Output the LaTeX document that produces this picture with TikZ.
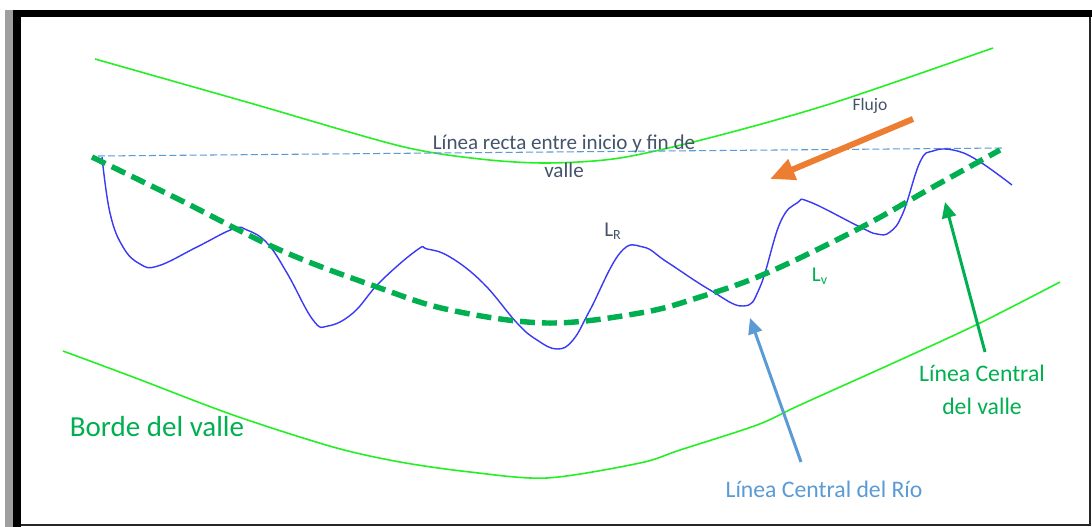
\documentclass[tikz,border=0pt]{standalone}
\usepackage{fontspec}
\setmainfont{Carlito}
\usetikzlibrary{arrows.meta}
\definecolor{valleygreen}{HTML}{00B050}
\definecolor{bordergreen}{HTML}{22F022}
\definecolor{riverblue}{HTML}{3A3AF5}
\definecolor{lightblue}{HTML}{5B9BD5}
\definecolor{flowora}{HTML}{ED7D31}
\definecolor{slate}{HTML}{44546A}
\tikzset{
  borde/.style={bordergreen, line width=0.9pt},
  rio/.style={riverblue, line width=0.8pt},
  pointer/.style={line width=1.7pt, -{Triangle[length=9pt,width=8pt]}},
  lbl/.style={inner sep=0pt, font=\fontsize{13.5}{16}\selectfont}
}
\begin{document}
\begin{tikzpicture}[x=0.02cm, y=-0.02cm]
    \useasboundingbox (0,0) rectangle (1092,527);
    \fill[white] (0,0) rectangle (1092,527);
    % frame
    \fill[gray!75] (5,10) rectangle (13,527);
    \fill[black] (13,10) rectangle (1092,17);
    \fill[black] (13,10) rectangle (21,527);
    \draw[black!85, line width=0.8pt] (1090,17) -- (1090,525) -- (21,525);
    % valley borders
    \draw[borde] plot[smooth, tension=0.5] coordinates {(95,59) (250,103) (400,146) (480,159) (547,163) (620,158) (713,137) (833,103) (993,48)};
    \draw[borde] plot[smooth, tension=0.5] coordinates {(63,351) (133,377) (233,415) (333,447) (400,462) (470,472) (547,478) (640,463) (680,450) (757,425) (800,405) (900,360) (980,323) (1060,282)};
    % straight line start to end
    \draw[lightblue, line width=0.6pt, dash pattern=on 4pt off 1.8pt] (98,156) -- (1003,148);
    % river centre line
    \draw[rio] plot[smooth, tension=0.7] coordinates {(102,157) (110,213) (123,247) (140,264) (158,266) (197,247) (233,229) (247,230) (267,243) (287,273) (313,320) (328,326) (353,313) (380,282) (417,250) (427,249) (450,257) (483,283) (517,323) (537,340) (557,349) (573,340) (590,310) (620,253) (643,247) (667,262) (710,290) (743,306) (760,287) (780,223) (797,203) (810,202) (860,227) (877,234) (890,232) (903,213) (920,162) (933,151) (953,150) (977,160) (1012,185)};
    % valley centre line
    \draw[valleygreen, line width=3.1pt, dash pattern=on 8.5pt off 4pt] plot[smooth, tension=0.6] coordinates {(92,157) (180,200) (280,250) (377,287) (450,310) (547,323) (640,313) (700,297) (767,273) (860,228) (933,187) (1000,150)};
    % labels
    \node[lbl, slate, font=\fontsize{12}{14}\selectfont, align=center] (recta) at (564,156) {Línea recta entre inicio y fin de\\[2pt]valle};
    \node[lbl, slate, font=\fontsize{10}{12}\selectfont] (flujo) at (870,106) {Flujo};
    \node[lbl, slate, font=\fontsize{12}{14}\selectfont] (lr) at (613,231) {L\textsubscript{R}};
    \node[lbl, valleygreen, font=\fontsize{12}{14}\selectfont] (lv) at (820,276) {L\textsubscript{v}};
    \node[lbl, valleygreen, font=\fontsize{16.5}{20}\selectfont] (borde) at (157,427) {Borde del valle};
    \node[lbl, lightblue] (rioLbl) at (824,489) {Línea Central del Río};
    \node[lbl, valleygreen, align=center] (valleLbl) at (982,390) {Línea Central\\[3pt]del valle};
    % arrows
    \coordinate (flowTail) at (913,119);
    \coordinate (flowTip) at (770,179);
    \coordinate (rioTail) at (801,462);
    \coordinate (rioTip) at (750,318);
    \coordinate (valleTail) at (985,352);
    \coordinate (valleTip) at (945,202);
    \draw[flowora, line width=3.4pt, -{Triangle[length=14pt,width=12pt]}] (flowTail) -- (flowTip);
    \draw[pointer, lightblue] (rioTail) -- (rioTip);
    \draw[pointer, valleygreen] (valleTail) -- (valleTip);
\end{tikzpicture}
\end{document}
